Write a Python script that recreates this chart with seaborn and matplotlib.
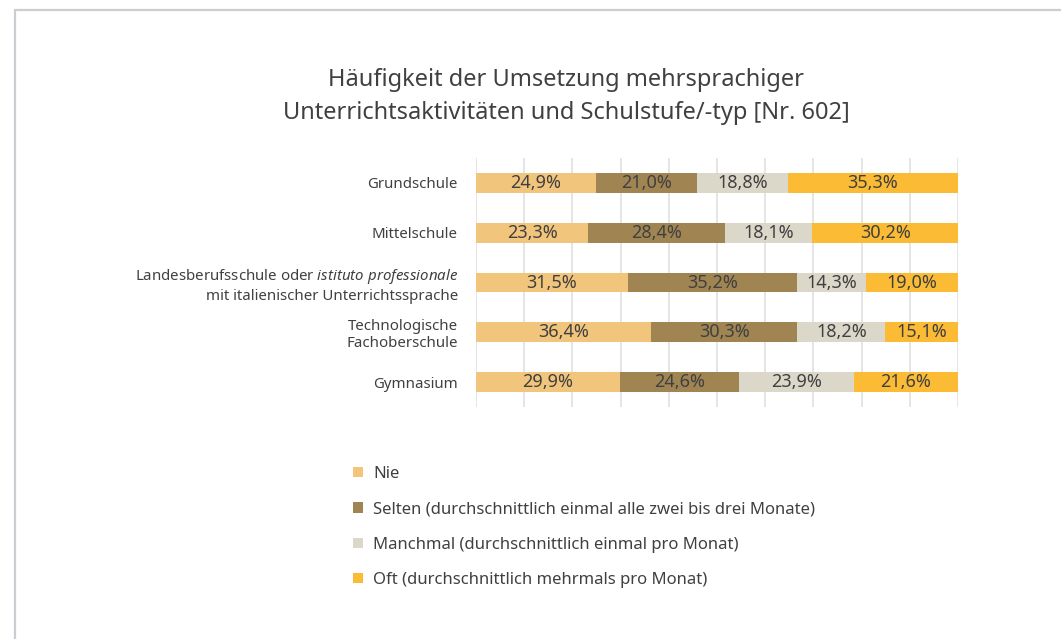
import matplotlib
matplotlib.use('Agg')
import matplotlib.pyplot as plt
from matplotlib.patches import Patch
from matplotlib.lines import Line2D
import numpy as np
import seaborn as sns

# data
schools = ['Grundschule', 'Mittelschule',
           'Landesberufsschule oder $\\mathit{istituto\\ professionale}$\nmit italienischer Unterrichtssprache',
           'Technologische\nFachoberschule', 'Gymnasium']
nie = [24.9, 23.3, 31.5, 36.4, 29.9]
selten = [21.0, 28.4, 35.2, 30.3, 24.6]
manchmal = [18.8, 18.1, 14.3, 18.2, 23.9]
oft = [35.3, 30.2, 19.0, 15.1, 21.6]
series_names = ['Nie',
                'Selten (durchschnittlich einmal alle zwei bis drei Monate)',
                'Manchmal (durchschnittlich einmal pro Monat)',
                'Oft (durchschnittlich mehrmals pro Monat)']
colors = ['#f2c57c', '#a08553', '#dbd7c9', '#fbbb35']

sns.set_style('white')
plt.rcParams['font.family'] = ['Noto Sans', 'DejaVu Sans']
plt.rcParams['mathtext.fontset'] = 'custom'
plt.rcParams['mathtext.rm'] = 'Noto Sans'
plt.rcParams['mathtext.it'] = 'Noto Sans:italic'
text_color = '#404040'

fig = plt.figure(figsize=(10.61, 6.39), dpi=100)
ax = fig.add_axes([476 / 1061, 1 - 407 / 639, 482 / 1061, 249 / 639])

values = np.array([nie, selten, manchmal, oft])
cum = values.cumsum(axis=0)

# stacked bars: draw cumulative totals from the longest down
for i in range(3, -1, -1):
    sns.barplot(x=cum[i], y=schools, color=colors[i], orient='h',
                width=0.4, saturation=1, linewidth=0, ax=ax, zorder=2)

for i in range(4):
    for j in range(len(schools)):
        ax.text(cum[i][j] - values[i][j] / 2, j, f'{values[i][j]:.1f}%'.replace('.', ','),
                ha='center', va='center', fontsize=13, color=text_color, zorder=3)

ax.set_xlim(0, 100)
ax.set_ylim(4.5, -0.5)
ax.set_xticks(np.arange(0, 101, 10))
ax.set_xticklabels([])
ax.grid(axis='x', color='#e3e3e3', linewidth=1.3)
ax.set_axisbelow(True)
ax.tick_params(axis='y', length=0, pad=13, labelsize=10.8, labelcolor=text_color)
ax.tick_params(axis='x', length=0)
ax.set_xlabel('')
ax.set_ylabel('')
sns.despine(ax=ax, left=True, bottom=True)

fig.text(566 / 1061, 1 - 96.5 / 639,
         'Häufigkeit der Umsetzung mehrsprachiger\nUnterrichtsaktivitäten und Schulstufe/-typ [Nr. 602]',
         ha='center', va='center', fontsize=17, color=text_color, linespacing=1.45)

handles = [Patch(facecolor=c, edgecolor='none') for c in colors]
fig.legend(handles, series_names, loc='upper left', bbox_to_anchor=(353 / 1061, 1 - 466 / 639),
           frameon=False, fontsize=12, labelcolor=text_color, handlelength=0.6, handleheight=0.6,
           handletextpad=0.6, labelspacing=1.16, borderpad=0, borderaxespad=0)

# light frame around the chart
frame_color = '#c9ced3'
fig.add_artist(Line2D([15 / 1061, 1], [1 - 10 / 639, 1 - 10 / 639], color=frame_color,
                      linewidth=1.6, transform=fig.transFigure))
fig.add_artist(Line2D([15 / 1061, 15 / 1061], [0, 1 - 10 / 639], color=frame_color,
                      linewidth=1.6, transform=fig.transFigure))

fig.savefig('out.png', dpi=100)
